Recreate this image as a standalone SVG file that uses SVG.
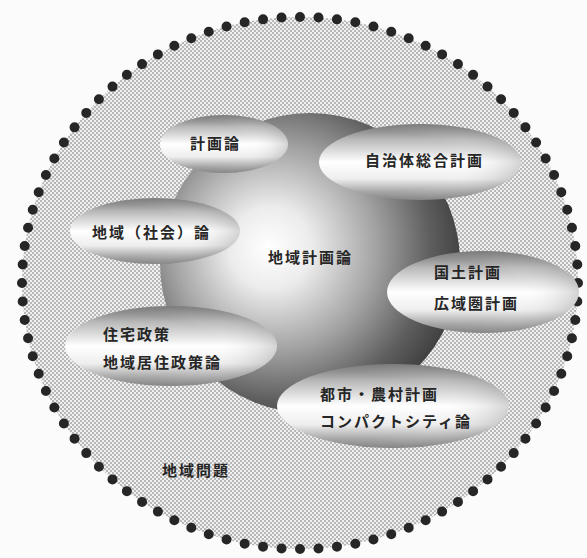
<svg xmlns="http://www.w3.org/2000/svg" width="587" height="558" viewBox="0 0 587 558">
<defs>
<pattern id="ht" width="4" height="4" patternUnits="userSpaceOnUse">
<rect width="4" height="4" fill="#f0f0f0"/>
<circle cx="1" cy="1" r="1" fill="#a4a4a4"/>
<circle cx="3" cy="3" r="1" fill="#a4a4a4"/>
</pattern>
<radialGradient id="sphere" cx="0.4" cy="0.45" r="0.62" fx="0.36" fy="0.45">
<stop offset="0" stop-color="#ffffff"/>
<stop offset="0.22" stop-color="#ececec"/>
<stop offset="0.55" stop-color="#a2a2a2"/>
<stop offset="0.82" stop-color="#5e5e5e"/>
<stop offset="1" stop-color="#3e3e3e"/>
</radialGradient>
<linearGradient id="pill" x1="0" y1="0" x2="0" y2="1">
<stop offset="0" stop-color="#6e6e6e"/>
<stop offset="0.2" stop-color="#b8b8b8"/>
<stop offset="0.5" stop-color="#ffffff"/>
<stop offset="0.72" stop-color="#eeeeee"/>
<stop offset="1" stop-color="#7a7a7a"/>
</linearGradient>
<radialGradient id="pillside" cx="0.3" cy="0.5" r="0.8">
<stop offset="0.5" stop-color="#ffffff" stop-opacity="0"/>
<stop offset="1" stop-color="#555555" stop-opacity="0.45"/>
</radialGradient>
<style>
.t{font-family:"Noto Sans CJK JP","Noto Sans CJK SC",sans-serif;font-weight:700;font-size:15px;fill:#262626;letter-spacing:2px}
.pill{fill:url(#pill)}
.shade{fill:url(#pillside)}
</style>
</defs>
<rect width="587" height="558" fill="#fbfbfb"/>
<g id="region">
<ellipse cx="300" cy="283" rx="278" ry="266" fill="url(#ht)"/>
<ellipse cx="300" cy="283" rx="278" ry="266" fill="none" stroke="#262626" stroke-width="10" stroke-linecap="round" stroke-dasharray="0 1" pathLength="92"/>
<text class="t" x="162" y="476">地域問題</text>
</g>
<g id="core">
<circle cx="310" cy="263" r="150" fill="url(#sphere)"/>
<text class="t" x="268" y="263">地域計画論</text>
</g>
<g id="n1">
<ellipse cx="224" cy="144" rx="64" ry="29" class="pill"/>
<ellipse cx="224" cy="144" rx="64" ry="29" class="shade"/>
<text class="t" x="190" y="149">計画論</text>
</g>
<g id="n2">
<ellipse cx="155" cy="231" rx="85" ry="33" class="pill"/>
<ellipse cx="155" cy="231" rx="85" ry="33" class="shade"/>
<text class="t" x="92" y="238">地域（社会）論</text>
</g>
<g id="n3">
<ellipse cx="420" cy="162" rx="101" ry="38" class="pill"/>
<ellipse cx="420" cy="162" rx="101" ry="38" class="shade"/>
<text class="t" x="365" y="166">自治体総合計画</text>
</g>
<g id="n4">
<ellipse cx="483" cy="292" rx="96" ry="41" class="pill"/>
<ellipse cx="483" cy="292" rx="96" ry="41" class="shade"/>
<text class="t" x="434" y="278">国土計画</text>
<text class="t" x="434" y="309">広域圏計画</text>
</g>
<g id="n5">
<ellipse cx="171" cy="346" rx="106" ry="40" class="pill"/>
<ellipse cx="171" cy="346" rx="106" ry="40" class="shade"/>
<text class="t" x="103" y="340">住宅政策</text>
<text class="t" x="103" y="368">地域居住政策論</text>
</g>
<g id="n6">
<ellipse cx="393" cy="406" rx="116" ry="42" class="pill"/>
<ellipse cx="393" cy="406" rx="116" ry="42" class="shade"/>
<text class="t" x="320" y="400">都市・農村計画</text>
<text class="t" x="320" y="427">コンパクトシティ論</text>
</g>
<g id="connectors"/>
</svg>
